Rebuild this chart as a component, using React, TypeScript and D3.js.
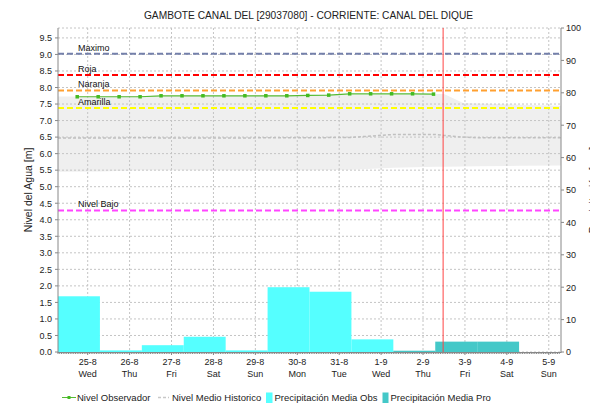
import React from "react";
import * as d3 from "d3";

const title = "GAMBOTE CANAL DEL [29037080] - CORRIENTE: CANAL DEL DIQUE";
const yLabel = "Nivel del Agua [m]";
const y2Label = "Precipitación [mm]";

const startTime = "2021-08-24T07:00";
const endTime = "2021-09-05T07:00";
const nowTime = "2021-09-02T11:30";

const tickDays = ["2021-08-25", "2021-08-26", "2021-08-27", "2021-08-28", "2021-08-29", "2021-08-30", "2021-08-31", "2021-09-01", "2021-09-02", "2021-09-03", "2021-09-04", "2021-09-05"];
const tickDates = ["25-8", "26-8", "27-8", "28-8", "29-8", "30-8", "31-8", "1-9", "2-9", "3-9", "4-9", "5-9"];
const tickWeekdays = ["Wed", "Thu", "Fri", "Sat", "Sun", "Mon", "Tue", "Wed", "Thu", "Fri", "Sat", "Sun"];

// Observed level, every 12 h from 24-8 18:00
const obsStart = "2021-08-24T18:00";
const obsLevel = [7.72, 7.72, 7.72, 7.72, 7.75, 7.75, 7.75, 7.75, 7.75, 7.75, 7.75, 7.76, 7.77, 7.81, 7.81, 7.81, 7.81, 7.80];

// Historic band
const histTimes = ["2021-08-24T07:00", "2021-08-25T07:00", "2021-08-26T07:00", "2021-08-27T07:00", "2021-08-28T07:00", "2021-08-29T07:00", "2021-08-30T07:00", "2021-08-31T07:00", "2021-09-01T07:00", "2021-09-02T07:00", "2021-09-02T12:00", "2021-09-02T23:00", "2021-09-03T07:00", "2021-09-04T07:00", "2021-09-05T07:00"];
const histMax = [7.73, 7.73, 7.74, 7.75, 7.75, 7.76, 7.77, 7.78, 7.79, 7.8, 7.8, 7.53, 7.52, 7.48, 7.45];
const histMin = [5.45, 5.46, 5.5, 5.5, 5.5, 5.5, 5.5, 5.51, 5.57, 5.6, 5.6, 5.61, 5.62, 5.63, 5.64];
const histMean = [6.47, 6.47, 6.48, 6.47, 6.47, 6.48, 6.48, 6.49, 6.58, 6.58, 6.55, 6.5, 6.48, 6.48, 6.48];

// Daily precipitation (mm), day buckets starting 07:00
const obsPrecipDays = ["2021-08-24T07:00", "2021-08-25T07:00", "2021-08-26T07:00", "2021-08-27T07:00", "2021-08-28T07:00", "2021-08-29T07:00", "2021-08-30T07:00", "2021-08-31T07:00"];
const obsPrecip = [17.2, 0.5, 2.1, 4.7, 0.5, 20.0, 18.6, 3.9];
const proPrecipDays = ["2021-09-01T07:00", "2021-09-02T07:00", "2021-09-03T07:00"];
const proPrecip = [0.4, 3.2, 3.2];

// Threshold levels
const thresholdNames = ["Maximo", "Roja", "Naranja", "Amarilla", "Nivel Bajo"];
const thresholdValues = [9.02, 8.38, 7.91, 7.38, 4.28];
const thresholdColors = ["#7480AA", "#FF0000", "#FFA030", "#FFFF00", "#FF44FF"];

const leftTicks = d3.range(0, 9.51, 0.5);
const rightTicks = d3.range(0, 100.1, 10);

const W = 590, H = 405;
const L = 58, R = 561, T = 28, B = 352;
const FONT = "'Liberation Sans', Arial, sans-serif";

export default function App() {
  const parse = (s: string) => new Date(s);
  const x = d3.scaleTime().domain([parse(startTime), parse(endTime)]).range([L, R]);
  const y = d3.scaleLinear().domain([0, 9.8]).range([B, T]);
  const y2 = d3.scaleLinear().domain([0, 100]).range([B, T]);

  const dayMs = 24 * 3600 * 1000;
  const obsPts = obsLevel.map((v, i) => ({ t: new Date(parse(obsStart).getTime() + i * 12 * 3600 * 1000), v }));
  const hist = histTimes.map((t, i) => ({ t: parse(t), hi: histMax[i], lo: histMin[i], m: histMean[i] }));

  const area = d3.area<any>().x((d) => x(d.t)).y0((d) => y(d.lo)).y1((d) => y(d.hi));
  const meanLine = d3.line<any>().x((d) => x(d.t)).y((d) => y(d.m));
  const obsLine = d3.line<any>().x((d) => x(d.t)).y((d) => y(d.v));

  const hourTicks = d3.timeHour.every(1)!.range(parse(startTime), parse(endTime));

  const bar = (day: string, v: number, color: string, key: string) => {
    const t0 = parse(day);
    const t1 = new Date(t0.getTime() + dayMs);
    return <rect key={key} x={x(t0)} y={y2(v)} width={x(t1) - x(t0)} height={B - y2(v)} fill={color} />;
  };

  return (
    <svg width={W} height={H} style={{ position: "absolute", left: 0, top: 0, background: "#fff" }} fontFamily={FONT}>
      <rect x={0} y={0} width={W} height={H} fill="#fff" />
      <text x={(L + R) / 2 - 1} y={19} textAnchor="middle" fontSize={10.2} fill="#222">{title}</text>

      {/* historic band */}
      <path d={area(hist)!} fill="#EFEFEF" />

      {/* grid */}
      {leftTicks.map((v) => (
        <line key={"gy" + v} x1={L} x2={R} y1={y(v)} y2={y(v)} stroke="#C4C4C4" strokeDasharray="2,2" strokeWidth={1} />
      ))}
      <line x1={L} x2={R} y1={T} y2={T} stroke="#C4C4C4" strokeDasharray="2,2" />
      {tickDays.map((d) => (
        <line key={"gx" + d} x1={x(parse(d + "T00:00"))} x2={x(parse(d + "T00:00"))} y1={T} y2={B} stroke="#C4C4C4" strokeDasharray="2,2" />
      ))}

      {/* precipitation bars */}
      {obsPrecip.map((v, i) => bar(obsPrecipDays[i], v, "#55FFFF", "ob" + i))}
      {proPrecip.map((v, i) => bar(proPrecipDays[i], v, "#44C8C8", "pb" + i))}

      {/* historic mean */}
      <path d={meanLine(hist)!} fill="none" stroke="#C0C0C0" strokeWidth={1.5} strokeDasharray="3,2" />

      {/* thresholds */}
      {thresholdValues.map((v, i) => (
        <g key={"th" + i}>
          <line x1={L} x2={R} y1={y(v)} y2={y(v)} stroke={thresholdColors[i]} strokeWidth={2} strokeDasharray="6,3" />
          <text x={78} y={y(v) - 3} fontSize={9} fill="#111">{thresholdNames[i]}</text>
        </g>
      ))}

      {/* observed */}
      <path d={obsLine(obsPts)!} fill="none" stroke="#55BB33" strokeWidth={1.2} />
      {obsPts.map((p, i) => (
        <rect key={"op" + i} x={x(p.t) - 1.75} y={y(p.v) - 1.75} width={3.5} height={3.5} fill="#44BB22" />
      ))}

      {/* now line */}
      <line x1={x(parse(nowTime))} x2={x(parse(nowTime))} y1={T} y2={B} stroke="#FF4444" strokeWidth={1} />

      {/* left axis */}
      <line x1={L} x2={L} y1={T} y2={B + 1} stroke="#888" />
      {leftTicks.map((v) => (
        <g key={"ly" + v}>
          <line x1={L - 3} x2={L} y1={y(v)} y2={y(v)} stroke="#888" />
          <text x={L - 6} y={y(v) + 3.3} textAnchor="end" fontSize={9} fill="#222">{v.toFixed(1)}</text>
        </g>
      ))}
      <text transform={`translate(32,${(T + B) / 2}) rotate(-90)`} textAnchor="middle" fontSize={10.5} fill="#222">{yLabel}</text>

      {/* right axis */}
      <line x1={R} x2={R} y1={T} y2={B + 1} stroke="#888" />
      {rightTicks.map((v) => (
        <g key={"ry" + v}>
          <line x1={R} x2={R + 3} y1={y2(v)} y2={y2(v)} stroke="#888" />
          <text x={R + 5} y={y2(v) + 3.3} fontSize={9} fill="#222">{v}</text>
        </g>
      ))}
      <text transform={`translate(597,${(T + B) / 2}) rotate(-90)`} textAnchor="middle" fontSize={10.5} fill="#222">{y2Label}</text>

      {/* bottom axis */}
      <line x1={L} x2={R} y1={B + 0.5} y2={B + 0.5} stroke="#888" />
      {hourTicks.map((t, i) => (
        <line key={"ht" + i} x1={x(t)} x2={x(t)} y1={B} y2={B + 2} stroke="#888" />
      ))}
      {tickDays.map((d, i) => {
        const px = x(parse(d + "T00:00"));
        return (
          <g key={"xl" + d}>
            <line x1={px} x2={px} y1={B} y2={B + 3} stroke="#888" />
            <text x={px} y={365} textAnchor="middle" fontSize={9} fill="#222">{tickDates[i]}</text>
            <text x={px} y={377} textAnchor="middle" fontSize={9} fill="#222">{tickWeekdays[i]}</text>
          </g>
        );
      })}

      {/* legend */}
      <g fontSize={9.5} fill="#222">
        <line x1={62} x2={76} y1={397.5} y2={397.5} stroke="#55BB33" />
        <rect x={67.5} y={396} width={3} height={3} fill="#44BB22" />
        <text x={77} y={401}>Nivel Observador</text>
        <line x1={158} x2={169} y1={397.5} y2={397.5} stroke="#C8C8C8" strokeWidth={1.5} strokeDasharray="3,2" />
        <text x={172} y={401}>Nivel Medio Historico</text>
        <rect x={266} y={392.5} width={6.5} height={10.5} fill="#55FFFF" />
        <text x={274.5} y={401}>Precipitación Media Obs</text>
        <rect x={382.5} y={392.5} width={6} height={10.5} fill="#44C8C8" />
        <text x={390.5} y={401}>Precipitación Media Pro</text>
      </g>
    </svg>
  );
}
